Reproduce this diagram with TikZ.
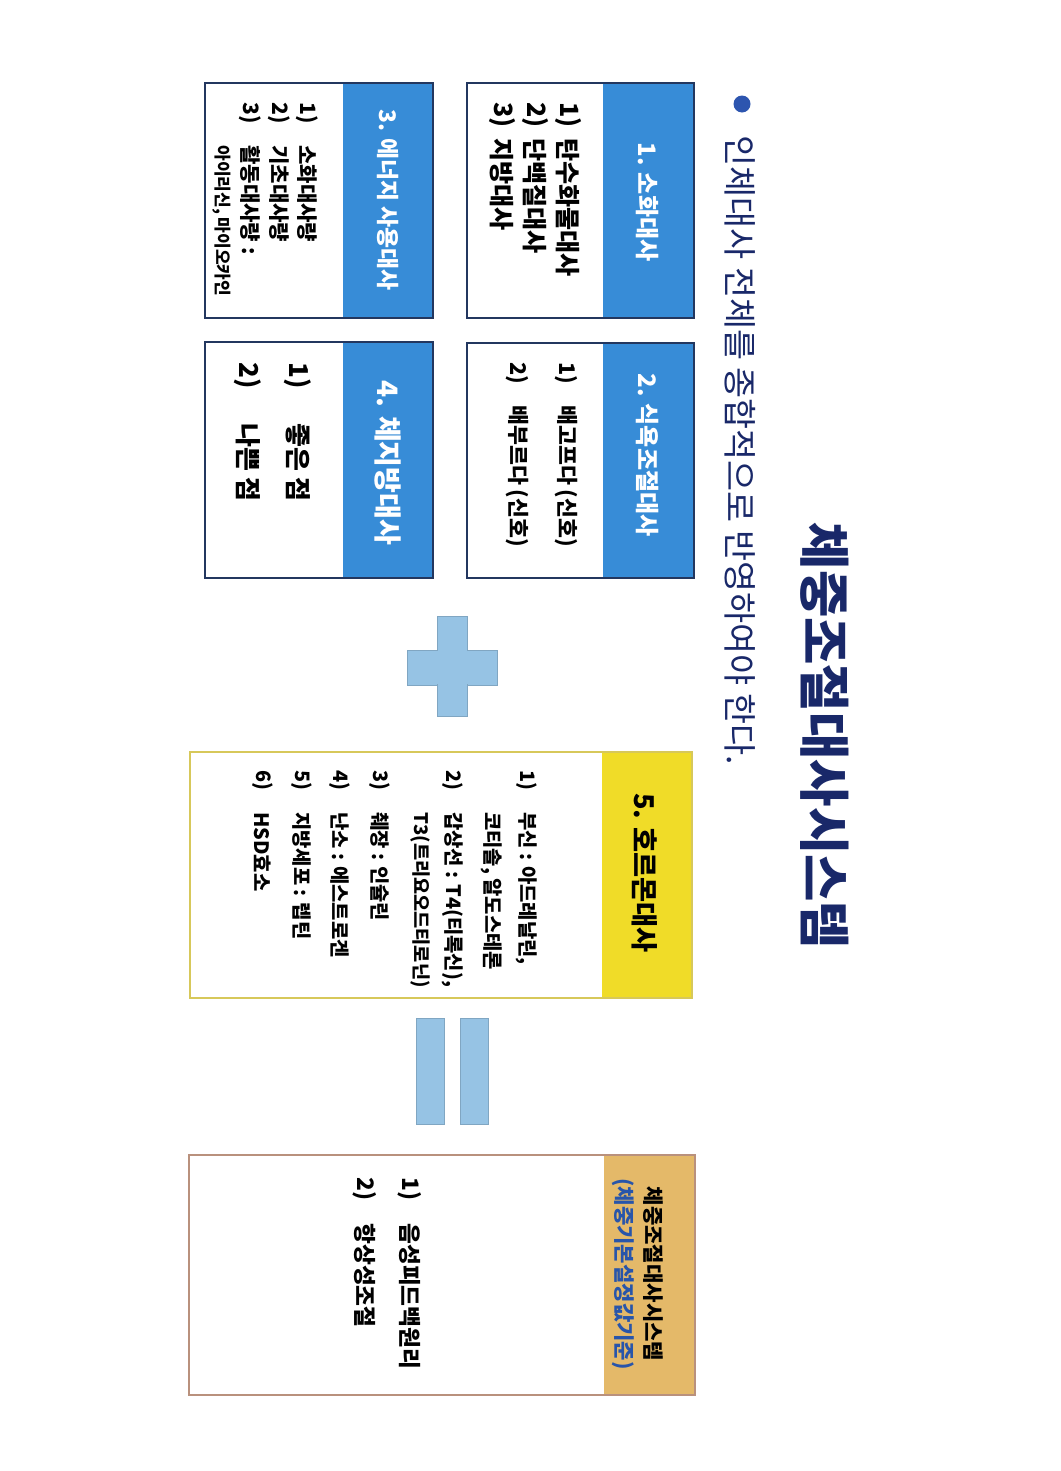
\documentclass[tikz,border=0pt]{standalone}
\usepackage{fontspec}
\setmainfont{Noto Sans CJK KR}
\usetikzlibrary{positioning}
\definecolor{hdrblue}{RGB}{55,140,215}
\definecolor{boxnavy}{RGB}{35,55,95}
\definecolor{hdryellow}{RGB}{240,220,40}
\definecolor{yellowline}{RGB}{215,200,90}
\definecolor{hdrtan}{RGB}{228,185,105}
\definecolor{tanline}{RGB}{185,145,125}
\definecolor{signblue}{RGB}{150,195,228}
\definecolor{titlenavy}{RGB}{25,40,105}
\definecolor{bulletblue}{RGB}{45,85,175}
\definecolor{subblue}{RGB}{40,85,170}
\newcommand{\fs}[1]{\fontsize{#1}{1.2\dimexpr#1pt\relax}\selectfont}
\tikzset{
	txt/.style={rotate=-90, inner sep=0pt},
	num/.style={txt, anchor=west},
	item/.style={txt, anchor=west},
	headtxt/.style={txt, anchor=center, text=white},
	bluebox/.style={draw=boxnavy, line width=1.6pt},
	sign/.style={fill=signblue, draw=signblue!85!black, line width=0.3pt},
}

\begin{document}
\begin{tikzpicture}[x=0.02cm, y=-0.02cm]
	\useasboundingbox (0,0) rectangle (1061,1471);
	
	% title and bullet line
	\node (title) [txt, text=titlenavy, font=\fs{29.3}\bfseries] at (825,736) {체중조절대사시스템};
	\fill[bulletblue] (742,104) circle[radius=0.17cm];
	\node (lead) [item, text=titlenavy, font=\fs{19.2}] at (740,135) {인체대사 전체를 종합적으로 반영하여야 한다.};
	
	% the four blue boxes
	\fill[hdrblue] (603,83) rectangle (694,318);
	\draw[bluebox] (467,83) rectangle (694,318);
	\fill[hdrblue] (603,343) rectangle (694,578);
	\draw[bluebox] (467,343) rectangle (694,578);
	\fill[hdrblue] (343,83) rectangle (433,318);
	\draw[bluebox] (205,83) rectangle (433,318);
	\fill[hdrblue] (343,342) rectangle (433,578);
	\draw[bluebox] (205,342) rectangle (433,578);
	
	\node (digest) [headtxt, font=\fs{13.7}\bfseries] at (648,202) {1. 소화대사};
	\node (appetite) [headtxt, font=\fs{13.7}\bfseries] at (648,455) {2. 식욕조절대사};
	\node (energy) [headtxt, font=\fs{13}\bfseries] at (388,200) {3. 에너지 사용대사};
	\node (bodyfat) [headtxt, font=\fs{16}\bfseries] at (388,463) {4. 체지방대사};
	
	\begin{scope}[font=\fs{14.3}\bfseries]
		\node (digest1n) [num] at (568,102) {1)};
		\node (digest1) [item] at (568,138) {탄수화물대사};
		\node (digest2n) [num] at (535,102) {2)};
		\node (digest2) [item] at (535,138) {단백질대사};
		\node (digest3n) [num] at (502,102) {3)};
		\node (digest3) [item] at (502,138) {지방대사};
	\end{scope}
	
	\begin{scope}[font=\fs{12.3}\bfseries]
		\node (appetite1n) [num] at (566,362) {1)};
		\node (appetite1) [item] at (566,405) {배고프다 (신호)};
		\node (appetite2n) [num] at (517,362) {2)};
		\node (appetite2) [item] at (517,405) {배부르다 (신호)};
	\end{scope}
	
	\begin{scope}[font=\fs{12}\bfseries]
		\node (energy1n) [num] at (307,102) {1)};
		\node (energy1) [item] at (307,145) {소화대사량};
		\node (energy2n) [num] at (279,102) {2)};
		\node (energy2) [item] at (279,145) {기초대사량};
		\node (energy3n) [num] at (250,102) {3)};
		\node (energy3) [item] at (250,145) {활동대사량 :};
		\node (energy3s) [item, font=\fs{9.7}\bfseries] at (222,145) {아이리신, 마이오카인};
	\end{scope}
	
	\begin{scope}[font=\fs{14.8}\bfseries]
		\node (bodyfat1n) [num] at (298,362) {1)};
		\node (bodyfat1) [item] at (298,423) {좋은 점};
		\node (bodyfat2n) [num] at (248,362) {2)};
		\node (bodyfat2) [item] at (248,423) {나쁜 점};
	\end{scope}
	
	% plus sign
	\fill[sign] (407,650) rectangle (497,685);
	\fill[sign] (437,616) rectangle (467,716);
	\fill[signblue] (407.6,650.6) rectangle (496.4,684.4);
	
	% hormone box
	\fill[hdryellow] (602,752) rectangle (692,998);
	\draw[yellowline, line width=1pt] (190,752) rectangle (692,998);
	\node (hormone) [txt, anchor=center, font=\fs{15.5}\bfseries] at (645,873) {5. 호르몬대사};
	\begin{scope}[font=\fs{11.3}\bfseries]
		\node (hormone1n) [num] at (527,770) {1)};
		\node (hormone1) [item] at (527,812) {부신 : 아드레날린,};
		\node (hormone1b) [item] at (492,812) {코티솔, 알도스테론};
		\node (hormone2n) [num] at (453,770) {2)};
		\node (hormone2) [item] at (453,812) {갑상선 : T4(티록신),};
		\node (hormone2b) [item, font=\fs{10.6}\bfseries] at (420,812) {T3(트리요오드티로닌)};
		\node (hormone3n) [num] at (380,770) {3)};
		\node (hormone3) [item] at (380,812) {췌장 : 인슐린};
		\node (hormone4n) [num] at (340,770) {4)};
		\node (hormone4) [item] at (340,812) {난소 : 에스트로겐};
		\node (hormone5n) [num] at (302,770) {5)};
		\node (hormone5) [item] at (302,812) {지방세포 : 렙틴};
		\node (hormone6n) [num] at (263,770) {6)};
		\node (hormone6) [item] at (263,812) {HSD효소};
	\end{scope}
	
	% equals sign
	\fill[sign] (416,1018) rectangle (444,1124);
	\fill[sign] (460,1018) rectangle (488,1124);
	
	% set point box
	\fill[hdrtan] (604,1155) rectangle (695,1395);
	\draw[tanline, line width=1pt] (189,1155) rectangle (695,1395);
	\node (setpoint) [txt, anchor=center, font=\fs{12}\bfseries] at (653,1274) {체중조절대사시스템};
	\node (setpointb) [txt, anchor=center, text=subblue, font=\fs{12}\bfseries] at (623,1274) {(체중기본설정값기준)};
	\begin{scope}[font=\fs{12.9}\bfseries]
		\node (setpoint1n) [num] at (410,1177) {1)};
		\node (setpoint1) [item] at (410,1223) {음성피드백원리};
		\node (setpoint2n) [num] at (365,1177) {2)};
		\node (setpoint2) [item] at (365,1223) {항상성조절};
	\end{scope}
\end{tikzpicture}
\end{document}
